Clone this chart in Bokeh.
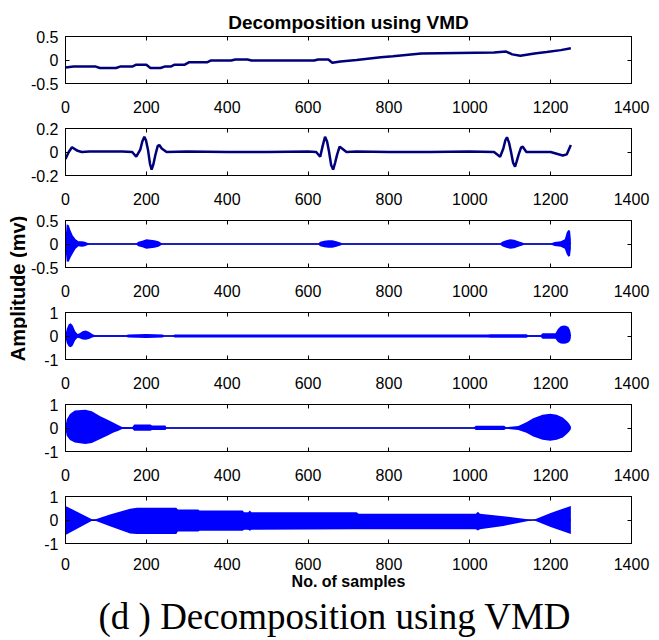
from math import pi
import numpy as np
from bokeh.plotting import figure
from bokeh.models import Range1d, FixedTicker, LinearAxis, Title, Label
from bokeh.layouts import column, row
from bokeh.embed import file_html
from bokeh.resources import INLINE

# ---------------- data ----------------
x_ticks = [0, 200, 400, 600, 800, 1000, 1200, 1400]

# IMF 1 : slow trend
m1_x = [0, 20, 75, 85, 125, 135, 165, 175, 200, 210, 235, 245, 260, 270, 295, 305, 350, 360, 410, 420,
        450, 460, 615, 625, 650, 660, 680, 720, 780, 810, 880, 1060, 1090, 1105, 1125, 1160, 1190, 1225, 1250]
m1_y = [-0.16, -0.14, -0.14, -0.17, -0.17, -0.14, -0.14, -0.10, -0.10, -0.17, -0.17, -0.14, -0.14, -0.10, -0.10,
        -0.05, -0.05, -0.01, -0.01, 0.01, 0.01, -0.01, -0.01, 0.01, 0.01, -0.06, -0.03, 0.0, 0.06, 0.08,
        0.14, 0.16, 0.18, 0.12, 0.09, 0.14, 0.17, 0.21, 0.25]

# IMF 2 : QRS-like wave packets
m2_x = [0, 8, 16, 30, 40, 60, 100, 140, 165, 175, 185, 190, 195, 199, 204, 209, 213, 217, 222, 228, 232, 238,
        250, 300, 400, 500, 600, 620, 630, 636, 642, 647, 652, 657, 662, 667, 672, 678, 684, 695, 720, 800, 900,
        1000, 1060, 1075, 1083, 1088, 1092, 1097, 1102, 1107, 1112, 1116, 1121, 1127, 1131, 1140, 1170, 1200,
        1230, 1240, 1250]
m2_y = [-0.06, 0.0, 0.04, 0.01, 0.0, 0.005, 0.005, 0.005, 0.0, -0.04, 0.02, 0.09, 0.13, 0.10, 0.02, -0.10,
        -0.15, -0.11, -0.03, 0.05, 0.06, 0.03, 0.0, 0.005, 0.0, 0.0, 0.005, 0.0, -0.04, 0.05, 0.13, 0.09, 0.0,
        -0.11, -0.15, -0.09, -0.02, 0.045, 0.03, 0.0, 0.005, 0.0, 0.0, 0.005, 0.0, -0.04, 0.03, 0.10, 0.125,
        0.08, 0.0, -0.09, -0.125, -0.08, -0.02, 0.04, 0.045, 0.0, 0.0, 0.0, -0.03, -0.02, 0.06]

# IMF 3 : envelope (upper / lower)
m3_x = [0, 3, 8, 12, 18, 25, 32, 40, 48, 55, 60, 175, 180, 190, 200, 210, 220, 230, 235, 240,
        625, 630, 640, 650, 660, 670, 680, 685, 1075, 1080, 1090, 1100, 1110, 1120, 1130, 1135,
        1200, 1210, 1225, 1235, 1240, 1244, 1248, 1250]
m3_up = [0.10, 0.42, 0.40, 0.30, 0.18, 0.10, 0.06, 0.06, 0.05, 0.02, 0.01, 0.01, 0.05, 0.07, 0.10, 0.09, 0.08,
         0.06, 0.03, 0.01, 0.01, 0.05, 0.07, 0.08, 0.08, 0.06, 0.03, 0.01, 0.01, 0.05, 0.08, 0.10, 0.09, 0.06,
         0.03, 0.01, 0.01, 0.04, 0.06, 0.10, 0.25, 0.30, 0.28, 0.10]
m3_lo = [-0.10, -0.37, -0.38, -0.30, -0.20, -0.10, -0.05, -0.06, -0.05, -0.02, -0.01, -0.01, -0.05, -0.07,
         -0.10, -0.09, -0.08, -0.06, -0.03, -0.01, -0.01, -0.05, -0.07, -0.08, -0.08, -0.06, -0.03, -0.01,
         -0.01, -0.05, -0.08, -0.10, -0.09, -0.06, -0.03, -0.01, -0.01, -0.04, -0.06, -0.10, -0.22, -0.27,
         -0.25, -0.10]

# IMF 4 : envelope
m4_x = [0, 3, 8, 13, 18, 24, 30, 35, 42, 50, 58, 66, 73, 150, 155, 200, 240, 245, 265, 270,
        1045, 1050, 1140, 1145, 1175, 1180, 1212, 1218, 1225, 1232, 1238, 1244, 1248, 1250]
m4_up = [0.05, 0.30, 0.50, 0.54, 0.45, 0.20, 0.08, 0.12, 0.20, 0.23, 0.18, 0.08, 0.03, 0.03, 0.06, 0.08, 0.06,
         0.02, 0.02, 0.06, 0.06, 0.07, 0.07, 0.03, 0.03, 0.12, 0.12, 0.30, 0.42, 0.45, 0.44, 0.38, 0.25, 0.10]
m4_lo = [-0.05, -0.30, -0.45, -0.48, -0.40, -0.18, -0.07, -0.10, -0.15, -0.16, -0.13, -0.06, -0.03, -0.03,
         -0.06, -0.08, -0.06, -0.02, -0.02, -0.06, -0.06, -0.07, -0.07, -0.03, -0.03, -0.12, -0.12, -0.25,
         -0.32, -0.33, -0.32, -0.28, -0.20, -0.08]

# IMF 5 : envelope
m5_x = [0, 3, 11, 23, 49, 65, 86, 103, 119, 131, 140, 165, 170, 210, 214, 247, 250, 1010, 1015, 1085,
        1090, 1120, 1140, 1157, 1180, 1199, 1215, 1230, 1240, 1246, 1250]
m5_up = [0.05, 0.36, 0.60, 0.74, 0.78, 0.71, 0.50, 0.36, 0.22, 0.12, 0.04, 0.03, 0.15, 0.15, 0.11, 0.11, 0.02,
         0.02, 0.10, 0.10, 0.03, 0.08, 0.25, 0.42, 0.56, 0.61, 0.56, 0.45, 0.30, 0.18, 0.06]
m5_lo = [-0.05, -0.33, -0.51, -0.62, -0.68, -0.64, -0.47, -0.33, -0.19, -0.12, -0.04, -0.03, -0.12, -0.12,
         -0.09, -0.09, -0.02, -0.02, -0.08, -0.08, -0.03, -0.08, -0.20, -0.36, -0.50, -0.54, -0.50, -0.40,
         -0.26, -0.15, -0.05]

# IMF 6 : envelope
m6_x = [0, 69, 110, 160, 177, 274, 278, 328, 332, 438, 442, 452, 456, 460, 720, 725, 1015, 1020, 1025, 1083,
        1157, 1200, 1250]
m6_up = [0.60, 0.0, 0.23, 0.48, 0.52, 0.52, 0.45, 0.45, 0.40, 0.40, 0.33, 0.33, 0.40, 0.33, 0.33, 0.27, 0.27,
         0.35, 0.27, 0.16, 0.0, 0.30, 0.60]
m6_lo = [-0.64, 0.0, -0.27, -0.57, -0.60, -0.60, -0.49, -0.49, -0.46, -0.46, -0.42, -0.42, -0.46, -0.42,
         -0.39, -0.39, -0.39, -0.45, -0.39, -0.25, 0.0, -0.30, -0.60]

y_limits = [(-0.5, 0.5), (-0.2, 0.2), (-0.5, 0.5), (-1, 1), (-1, 1), (-1, 1)]
y_ticks = [[-0.5, 0, 0.5], [-0.2, 0, 0.2], [-0.5, 0, 0.5], [-1, 0, 1], [-1, 0, 1], [-1, 0, 1]]
y_tick_labels = [["-0.5", "0", "0.5"], ["-0.2", "0", "0.2"], ["-0.5", "0", "0.5"],
                 ["-1", "0", "1"], ["-1", "0", "1"], ["-1", "0", "1"]]

title_text = "Decomposition using VMD"
x_label = "No. of samples"
y_label = "Amplitude (mv)"
caption = "(d ) Decomposition using VMD"

# ---------------- styling ----------------
SANS = "Liberation Sans"
SERIF = "Liberation Serif"
LINE_COL = "#00007a"
FILL_COL = "#0000ff"
CORE_COL = "#00004a"
LEFT_W = 27


def style_axis(ax, ticks, labels=True):
    ax.ticker = FixedTicker(ticks=ticks)
    ax.axis_line_color = "black"
    ax.axis_line_width = 1
    ax.major_tick_in = 4
    ax.major_tick_out = 0
    ax.major_tick_line_color = "black"
    ax.minor_tick_line_color = None
    if labels:
        ax.major_label_text_font = SANS
        ax.major_label_text_font_size = "16px"
        ax.major_label_text_color = "black"
    else:
        ax.major_label_text_font_size = "1px"
        ax.major_label_text_color = None
        ax.major_label_standoff = 0


def make_fig(i, top, bottom):
    p = figure(frame_width=566, frame_height=47,
               min_border_left=62 - LEFT_W, min_border_right=31,
               min_border_top=top, min_border_bottom=bottom,
               x_range=Range1d(0, 1400), y_range=Range1d(*y_limits[i]),
               output_backend="svg", toolbar_location=None)
    p.grid.visible = False
    p.outline_line_color = "black"
    p.outline_line_width = 1
    bottom_ax = p.below[0]
    left_ax = p.left[0]
    style_axis(bottom_ax, x_ticks)
    bottom_ax.major_label_standoff = 17
    style_axis(left_ax, y_ticks[i])
    left_ax.major_label_standoff = 7
    left_ax.major_label_overrides = {t: l for t, l in zip(y_ticks[i], y_tick_labels[i])}
    top_ax = LinearAxis()
    style_axis(top_ax, x_ticks, labels=False)
    p.add_layout(top_ax, "above")
    right_ax = LinearAxis()
    style_axis(right_ax, y_ticks[i], labels=False)
    p.add_layout(right_ax, "right")
    return p


figs = []
tops = [36, 8, 8, 8, 8, 8]
bottoms = [37, 37, 37, 37, 37, 97]
for i in range(6):
    figs.append(make_fig(i, tops[i], bottoms[i]))

# line modes
figs[0].line(m1_x, m1_y, line_color=LINE_COL, line_width=2.5)
figs[1].line(m2_x, m2_y, line_color=LINE_COL, line_width=2.5)

# envelope modes: thin dark core first, blue envelope on top
for p, xs, up, lo in [(figs[2], m3_x, m3_up, m3_lo), (figs[3], m4_x, m4_up, m4_lo),
                      (figs[4], m5_x, m5_up, m5_lo), (figs[5], m6_x, m6_up, m6_lo)]:
    mid = [(a + b) / 2 for a, b in zip(up, lo)]
    p.line(xs, mid, line_color=CORE_COL, line_width=1.3)
    p.varea(x=xs, y1=lo, y2=up, fill_color=FILL_COL)

# title
t = figs[0].title
t.text = title_text
t.align = "center"
t.text_font = SANS
t.text_font_size = "19px"
t.text_font_style = "bold"
t.text_color = "black"
t.standoff = 8

# x label + caption
last = figs[5]
xa = last.below[0]
xa.major_label_standoff = 14
xa.axis_label = x_label
xa.axis_label_text_font = SANS
xa.axis_label_text_font_size = "16px"
xa.axis_label_text_font_style = "bold"
xa.axis_label_text_color = "black"
xa.axis_label_standoff = 0
last.add_layout(Title(text=caption, align="left", offset=33, text_font=SERIF, text_font_size="37px",
                      text_font_style="normal", text_color="black", standoff=3), "below")

# left column holding the shared y label
lf = figure(frame_width=LEFT_W, frame_height=640, min_border=0,
            x_range=Range1d(0, LEFT_W), y_range=Range1d(640, 0),
            x_axis_type=None, y_axis_type=None,
            output_backend="svg", toolbar_location=None)
lf.outline_line_color = None
lf.add_layout(Label(x=17, y=288, text=y_label, angle=pi / 2, text_align="center",
                    text_baseline="middle", text_font=SANS, text_font_size="20px",
                    text_font_style="bold", text_color="black"))

layout = row(lf, column(*figs))
open("out.html", "w").write(file_html(layout, INLINE))
